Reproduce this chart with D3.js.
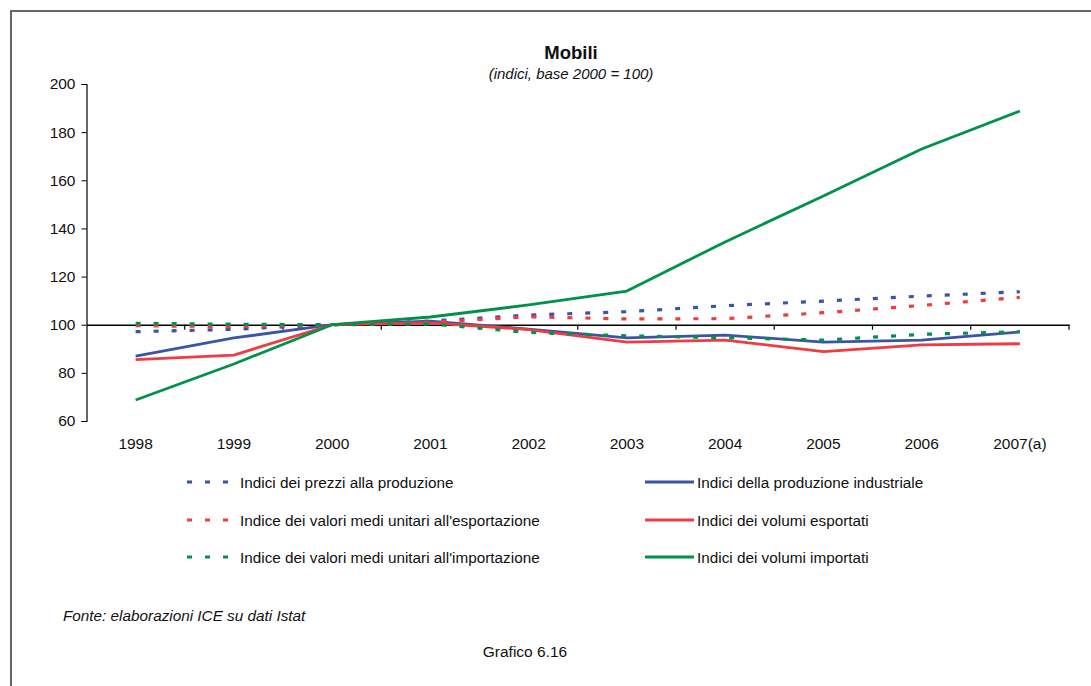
<!DOCTYPE html>
<html>
<head>
<meta charset="utf-8">
<script src="https://cdn.jsdelivr.net/npm/d3@7"></script>
<style>
  body { margin: 0; background: #fff; }
  svg text { font-family: "Liberation Sans", Arial, sans-serif; fill: #111; }
</style>
</head>
<body>
<div id="chart"></div>
<script>
// Mobili - indici, base 2000 = 100

const years = ["1998", "1999", "2000", "2001", "2002", "2003", "2004", "2005", "2006", "2007(a)"];

const prezziProduzione = [97.1, 98.1, 100, 101.5, 104.0, 105.4, 107.9, 109.8, 111.9, 113.7];
const valoriEsportazione = [99.6, 99.2, 100, 101.0, 103.3, 102.4, 102.5, 105.0, 108.0, 111.4];
const valoriImportazione = [100.6, 100.2, 100, 100.3, 96.8, 95.4, 94.6, 93.6, 96.0, 97.1];
const produzioneIndustriale = [87.0, 94.5, 100, 101.5, 98.2, 94.5, 95.7, 92.8, 93.6, 97.0];
const volumiEsportati = [85.5, 87.4, 100, 100.8, 98.0, 92.8, 93.6, 88.8, 91.6, 92.1];
const volumiImportati = [68.7, 83.7, 100, 103.2, 108.2, 114.0, 134.4, 153.5, 173.0, 188.8];

const yTicks = [60, 80, 100, 120, 140, 160, 180, 200];

const series = [
  { name: "Indici della produzione industriale", values: produzioneIndustriale, color: "#3a55a5", dashed: false },
  { name: "Indici dei volumi esportati", values: volumiEsportati, color: "#ef3b41", dashed: false },
  { name: "Indici dei volumi importati", values: volumiImportati, color: "#00914b", dashed: false },
  { name: "Indici dei prezzi alla produzione", values: prezziProduzione, color: "#3a55a5", dashed: true },
  { name: "Indice dei valori medi unitari all'esportazione", values: valoriEsportazione, color: "#ef3b41", dashed: true },
  { name: "Indice dei valori medi unitari all'importazione", values: valoriImportazione, color: "#00914b", dashed: true }
];

const W = 1091, H = 686;
const svg = d3.select("#chart").append("svg").attr("width", W).attr("height", H);

// frame (only top and left visible)
svg.append("path")
  .attr("d", `M11,${H} L11,11 L${W},11`)
  .attr("fill", "none").attr("stroke", "#666").attr("stroke-width", 2);

const plot = { left: 86.5, right: 1069, top: 84, bottom: 421 };

const x = d3.scaleBand().domain(years).range([plot.left, plot.right]);
const y = d3.scaleLinear().domain([60, 200]).range([plot.bottom, plot.top]);

// title
svg.append("text").attr("x", 571).attr("y", 59).attr("text-anchor", "middle")
  .attr("font-size", 18.5).attr("font-weight", "bold").text("Mobili");
svg.append("text").attr("x", 571).attr("y", 79).attr("text-anchor", "middle")
  .attr("font-size", 15).attr("font-style", "italic").text("(indici, base 2000 = 100)");

// y axis
const yAxis = svg.append("g").attr("transform", `translate(${plot.left},0)`)
  .call(d3.axisLeft(y).tickValues(yTicks).tickSize(5).tickPadding(6));
yAxis.select(".domain").attr("stroke", "#000").attr("stroke-width", 1.2);
yAxis.selectAll(".tick line").attr("stroke", "#000");
yAxis.selectAll(".tick text").attr("font-size", 15.5).attr("fill", "#111")
  .attr("font-family", "Liberation Sans, Arial, sans-serif");

// x axis at y = 100
const xAxis = svg.append("g").attr("transform", `translate(0,${y(100)})`)
  .call(d3.axisBottom(x).tickSize(0).tickFormat(""));
xAxis.select(".domain").attr("stroke", "#000").attr("stroke-width", 1.5);
xAxis.selectAll(".tick").remove();
const bounds = years.map(d => x(d)).concat([plot.right]).slice(1);
xAxis.selectAll("line.cat")
  .data(bounds)
  .join("line").attr("class", "cat")
  .attr("x1", d => d).attr("x2", d => d)
  .attr("y1", 0).attr("y2", 5)
  .attr("stroke", "#000").attr("stroke-width", 1.2);

svg.append("g").selectAll("text")
  .data(years)
  .join("text")
  .attr("x", d => x(d) + x.bandwidth() / 2)
  .attr("y", 449)
  .attr("text-anchor", "middle")
  .attr("font-size", 15.5)
  .text(d => d);

// lines
const line = d3.line()
  .x((d, i) => x(years[i]) + x.bandwidth() / 2)
  .y(d => y(d));

svg.append("g").selectAll("path")
  .data(series)
  .join("path")
  .attr("d", s => line(s.values))
  .attr("fill", "none")
  .attr("stroke", s => s.color)
  .attr("stroke-width", s => s.dashed ? 3.2 : 2.8)
  .attr("stroke-dasharray", s => s.dashed ? "5,13" : null)
  .attr("stroke-linejoin", "round");

// legend
const legendRows = [482, 520, 557];
const leftCol = series.filter(s => s.dashed);
const rightCol = series.filter(s => !s.dashed);

const lg = svg.append("g");
leftCol.forEach((s, i) => {
  lg.append("line")
    .attr("x1", 187).attr("x2", 233).attr("y1", legendRows[i]).attr("y2", legendRows[i])
    .attr("stroke", s.color).attr("stroke-width", 3).attr("stroke-dasharray", "5,13");
  lg.append("text").attr("x", 240).attr("y", legendRows[i] + 5.5)
    .attr("font-size", 15.3).text(s.name);
});
rightCol.forEach((s, i) => {
  lg.append("line")
    .attr("x1", 645).attr("x2", 694).attr("y1", legendRows[i]).attr("y2", legendRows[i])
    .attr("stroke", s.color).attr("stroke-width", 2.8);
  lg.append("text").attr("x", 697).attr("y", legendRows[i] + 5.5)
    .attr("font-size", 15.3).text(s.name);
});

// footer
svg.append("text").attr("x", 63).attr("y", 621).attr("font-size", 15.3)
  .attr("font-style", "italic").text("Fonte: elaborazioni ICE su dati Istat");
svg.append("text").attr("x", 525).attr("y", 657).attr("text-anchor", "middle")
  .attr("font-size", 15.5).text("Grafico 6.16");
</script>
</body>
</html>
